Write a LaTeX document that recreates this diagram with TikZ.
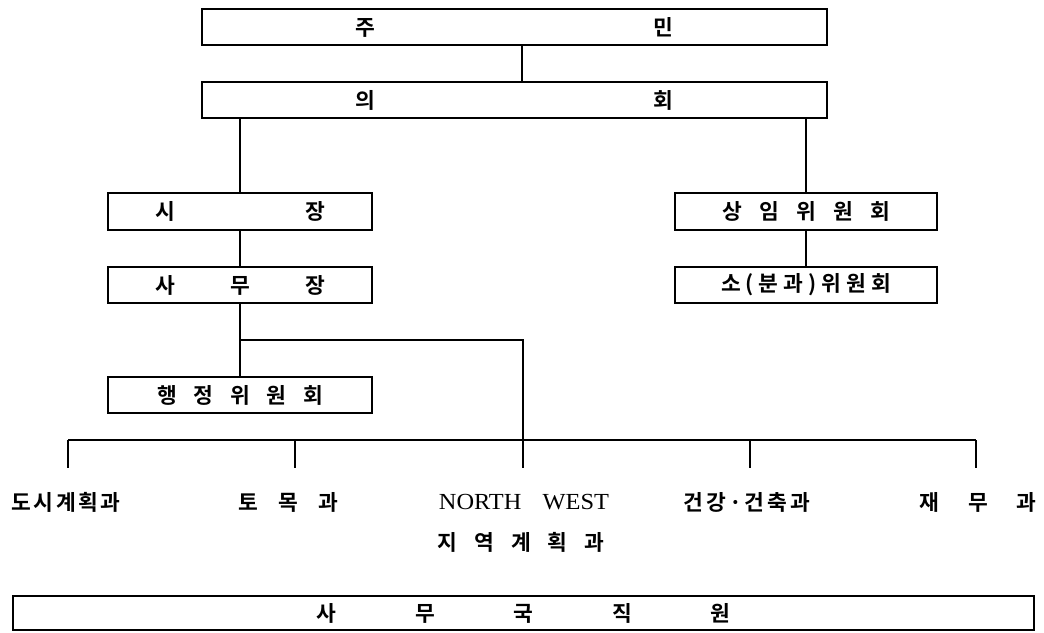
\documentclass[tikz,border=0pt]{standalone}
\usepackage{fontspec}
\newfontfamily\kfont{Noto Sans CJK KR}[BoldFont=* Bold]
\newfontfamily\lserif{Liberation Serif}
\begin{document}
\begin{tikzpicture}[x=1pt,y=-1pt,
  kor/.style={font=\kfont\bfseries\fontsize{21.5}{25}\selectfont},
  box/.style={draw, line width=1.2pt, inner sep=0pt, kor},
  ln/.style={line width=1.2pt},
  lbl/.style={inner sep=0pt, kor}]
\useasboundingbox (0,0) rectangle (1044,632);
% top boxes
\node[box, minimum width=625pt, minimum height=36pt] (jumin) at (514.5,27) {\hbox to 318pt{주\hfil 민}};
\node[box, minimum width=625pt, minimum height=36pt] (uihoe) at (514.5,100) {\hbox to 318pt{의\hfil 회}};
% left column
\node[box, minimum width=264pt, minimum height=37pt] (sijang) at (240,211.5) {\hbox to 170pt{시\hfil 장}};
\node[box, minimum width=264pt, minimum height=36pt] (samu) at (240,285) {\hbox to 170pt{사\hfil 무\hfil 장}};
\node[box, minimum width=264pt, minimum height=36pt] (haeng) at (240,395) {\hbox to 166pt{행\hfil 정\hfil 위\hfil 원\hfil 회}};
% right column
\node[box, minimum width=262pt, minimum height=37pt] (sangim) at (806,211.5) {\hbox to 168pt{상\hfil 임\hfil 위\hfil 원\hfil 회}};
\node[box, minimum width=262pt, minimum height=36pt] (sobun) at (806,285) {\hbox to 170pt{소\hfil(\hfil 분\hfil 과\hfil)\hfil 위\hfil 원\hfil 회}};
% bottom box
\node[box, minimum width=1021pt, minimum height=34pt] (jikwon) at (523.5,613) {\hbox to 414pt{사\hfil 무\hfil 국\hfil 직\hfil 원}};
% department labels
\node[lbl] (dosi) at (66,502) {\hbox to 109pt{도\hfil 시\hfil 계\hfil 획\hfil 과}};
\node[lbl] (tomok) at (288,502) {\hbox to 100pt{토\hfil 목\hfil 과}};
\node[inner sep=0pt, font=\lserif\fontsize{23}{27}\selectfont] (nw) at (524,502) {\scalebox{1.06}[1]{NORTH\hspace{20pt}WEST}};
\node[lbl] (nw2) at (521,542) {\hbox to 167pt{지\hfil 역\hfil 계\hfil 획\hfil 과}};
\node[lbl] (geon) at (747,502) {\hbox to 127pt{건\hfil 강\hfil ·\hfil 건\hfil 축\hfil 과}};
\node[lbl] (jaemu) at (978,502) {\hbox to 117pt{재\hfil 무\hfil 과}};
% junction coordinates
\coordinate (br) at (240,340);
\coordinate (brr) at (523,340);
\coordinate (busL) at (68,440);
\coordinate (busR) at (976,440);
\coordinate (b1) at (68,440);   \coordinate (e1) at (68,468);
\coordinate (b2) at (295,440);  \coordinate (e2) at (295,468);
\coordinate (b3) at (523,440);  \coordinate (e3) at (523,468);
\coordinate (b4) at (750,440);  \coordinate (e4) at (750,468);
\coordinate (b5) at (976,440);  \coordinate (e5) at (976,468);
% connectors
\draw[ln] (jumin.south -| 522,0) -- (uihoe.north -| 522,0);
\draw[ln] (uihoe.south -| sijang.north) -- (sijang.north);
\draw[ln] (uihoe.south -| sangim.north) -- (sangim.north);
\draw[ln] (sijang.south) -- (samu.north);
\draw[ln] (samu.south) -- (haeng.north);
\draw[ln] (sangim.south) -- (sobun.north);
\draw[ln] (br) -- (brr) -- (e3);
\draw[ln] (busL) -- (busR);
\draw[ln] (b1) -- (e1);
\draw[ln] (b2) -- (e2);
\draw[ln] (b4) -- (e4);
\draw[ln] (b5) -- (e5);
\end{tikzpicture}
\end{document}
